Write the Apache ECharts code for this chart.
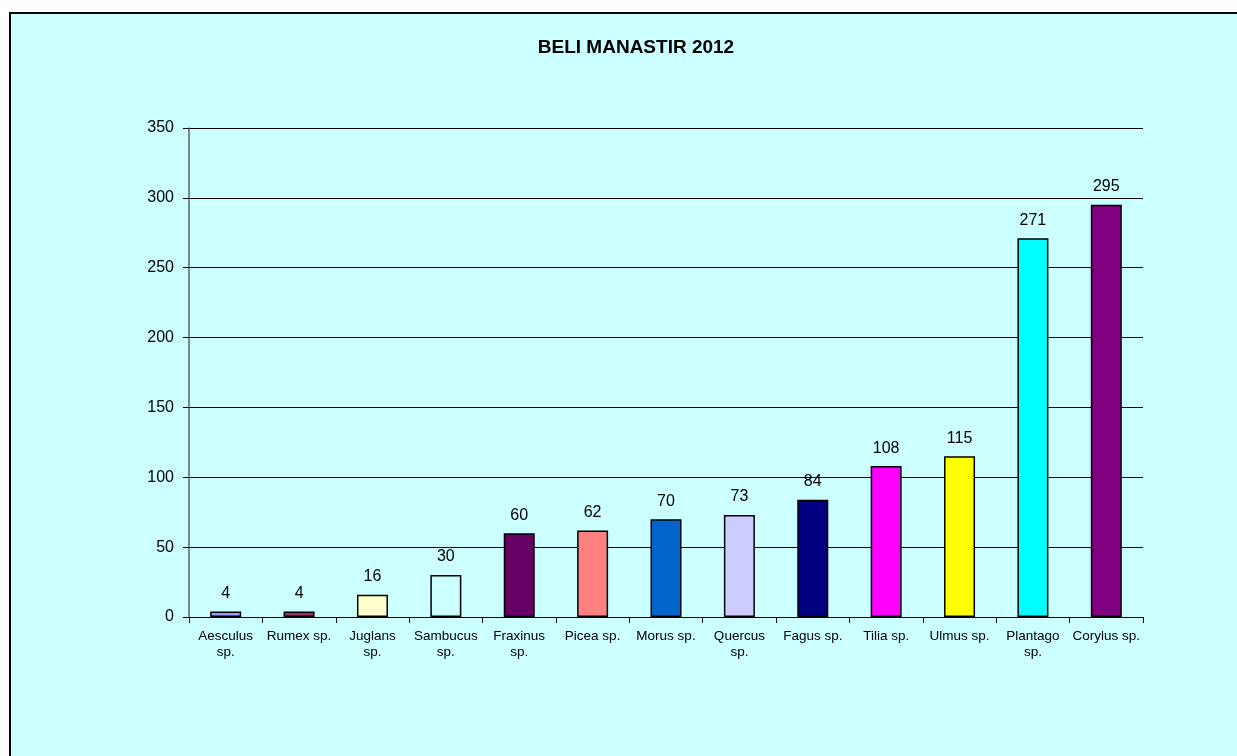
<!DOCTYPE html>
<html>
<head>
<meta charset="utf-8">
<script src="https://cdn.jsdelivr.net/npm/echarts@6/dist/echarts.min.js"></script>
<style>
  html, body { margin: 0; padding: 0; background: #ffffff; }
  #chart { width: 1237px; height: 756px; }
</style>
</head>
<body>
<div id="chart"></div>
<script>
// Pollen counts per taxon, Beli Manastir 2012
const categories = [
  'Aesculus\nsp.', 'Rumex sp.', 'Juglans\nsp.', 'Sambucus\nsp.', 'Fraxinus\nsp.',
  'Picea sp.', 'Morus sp.', 'Quercus\nsp.', 'Fagus sp.', 'Tilia sp.',
  'Ulmus sp.', 'Plantago\nsp.', 'Corylus sp.'
];
const counts = [4, 4, 16, 30, 60, 62, 70, 73, 84, 108, 115, 271, 295];
const barColors = [
  '#9999FF', '#993366', '#FFFFCC', '#CCFFFF', '#660066',
  '#FF8080', '#0066CC', '#CCCCFF', '#000080', '#FF00FF',
  '#FFFF00', '#00FFFF', '#800080'
];
const yTicks = [0, 50, 100, 150, 200, 250, 300, 350];

const FONT = 'Liberation Sans, Arial, sans-serif';
const chart = echarts.init(document.getElementById('chart'));
chart.setOption({
  backgroundColor: '#ffffff',
  animation: false,
  textStyle: { fontFamily: FONT },
  graphic: [{
    type: 'rect',
    z: -10,
    shape: { x: 10, y: 13, width: 1260, height: 770 },
    style: { fill: '#CCFFFF', stroke: '#000000', lineWidth: 2 }
  }],
  title: {
    text: 'BELI MANASTIR 2012',
    left: 631,
    top: 33,
    textAlign: 'center',
    textStyle: { fontSize: 19, fontWeight: 'bold', color: '#000000', fontFamily: FONT }
  },
  grid: { left: 189, right: 94, top: 128, bottom: 139, containLabel: false },
  xAxis: {
    type: 'category',
    data: categories,
    axisLine: { lineStyle: { color: '#000000', width: 1 } },
    axisTick: { show: true, alignWithLabel: false, length: 6, lineStyle: { color: '#000000' } },
    axisLabel: {
      interval: 0,
      fontSize: 13.5,
      color: '#000000',
      margin: 11,
      lineHeight: 16
    }
  },
  yAxis: {
    type: 'value',
    min: yTicks[0],
    max: yTicks[yTicks.length - 1],
    interval: 50,
    axisLine: { show: true, lineStyle: { color: '#606060', width: 1.5 } },
    axisTick: { show: true, length: 6, lineStyle: { color: '#000000' } },
    axisLabel: { fontSize: 16, color: '#000000', margin: 15 },
    splitLine: { show: true, lineStyle: { color: '#000000', width: 1 } }
  },
  series: [{
    type: 'bar',
    data: counts.map((v, i) => ({ value: v, itemStyle: { color: barColors[i] } })),
    barWidth: 31,
    itemStyle: { borderColor: '#000000', borderWidth: 1.5 },
    label: {
      show: true,
      position: 'top',
      distance: 10,
      fontSize: 16,
      color: '#000000'
    }
  }]
});
</script>
</body>
</html>
